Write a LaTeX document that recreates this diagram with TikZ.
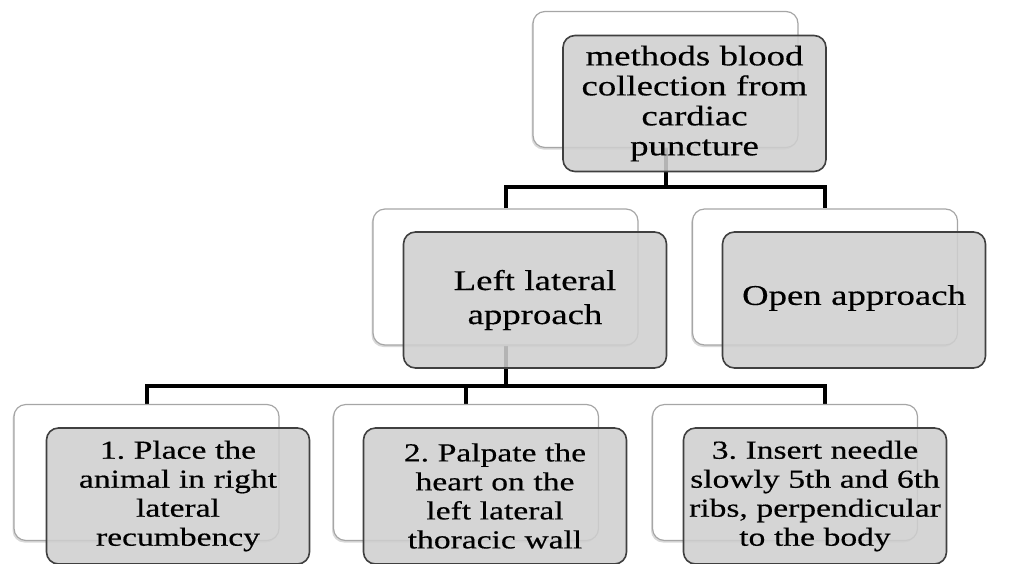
\documentclass[tikz,border=0pt]{standalone}
\usepackage{fontspec}
\setmainfont{Liberation Serif}[FakeStretch=1.29,FakeBold=0.4]
\usetikzlibrary{shadows,backgrounds}
\frenchspacing
\tikzset{
  backbox/.style={draw=black!35, line width=1.2pt, fill=white, rounded corners=12pt,
    minimum width=265pt, minimum height=136pt, inner sep=0pt,
    drop shadow={shadow xshift=-1.5pt, shadow yshift=-2pt, opacity=0.25, fill=black!60}},
  frontbox/.style={draw=black!75, line width=1.6pt, fill=black!19, fill opacity=0.87,
    text opacity=1, rounded corners=12pt, minimum width=263pt, minimum height=136pt,
    inner sep=0pt, align=center, text width=255pt},
  bigtext/.style={font=\fontsize{28.5}{30}\selectfont},
  smalltext/.style={font=\fontsize{26}{29}\selectfont},
  conn/.style={line width=4pt, draw=black}
}
\begin{document}
\begin{tikzpicture}[x=1pt,y=-1pt]
\useasboundingbox (0,0) rectangle (1016,563);
% back boxes
\node[backbox] (topw) at (665.5,79.5) {};
\node[backbox] (llw) at (505.5,277) {};
\node[backbox] (lrw) at (825,277) {};
\node[backbox] (aw) at (146.5,472.5) {};
\node[backbox] (bw) at (466,472.5) {};
\node[backbox] (cw) at (785,472.5) {};
% front boxes
\node[frontbox,bigtext] (topg) at (694.5,103.5) {methods blood\\collection from\\cardiac\\puncture};
\node[frontbox,bigtext] (llg) at (535,300) {\vspace*{4pt}Left lateral\\approach};
\node[frontbox,bigtext] (lrg) at (854,300) {\vspace*{4pt}Open approach};
\node[frontbox,smalltext] (ag) at (178,496) {1. Place the\\animal in right\\lateral\\recumbency};
\node[frontbox,smalltext] (bg) at (495,496) {2. Palpate the\\heart on the\\left lateral\\thoracic wall};
\node[frontbox,smalltext] (cg) at (815,496) {3. Insert needle\\slowly 5th and 6th\\ribs, perpendicular\\to the body};
\coordinate (c3) at (825,405);
\begin{scope}[on background layer]
  \draw[conn] (topw.south) -- ++(0,41);
  \draw[conn] (llw.north) -- ++(0,-21) -| (lrw.north);
  \draw[conn] (llw.south) -- ++(0,42);
  \draw[conn] (aw.north) -- ++(0,-18) -| (c3);
  \draw[conn] (bw.north) -- ++(0,-18);
\end{scope}
\end{tikzpicture}
\end{document}
